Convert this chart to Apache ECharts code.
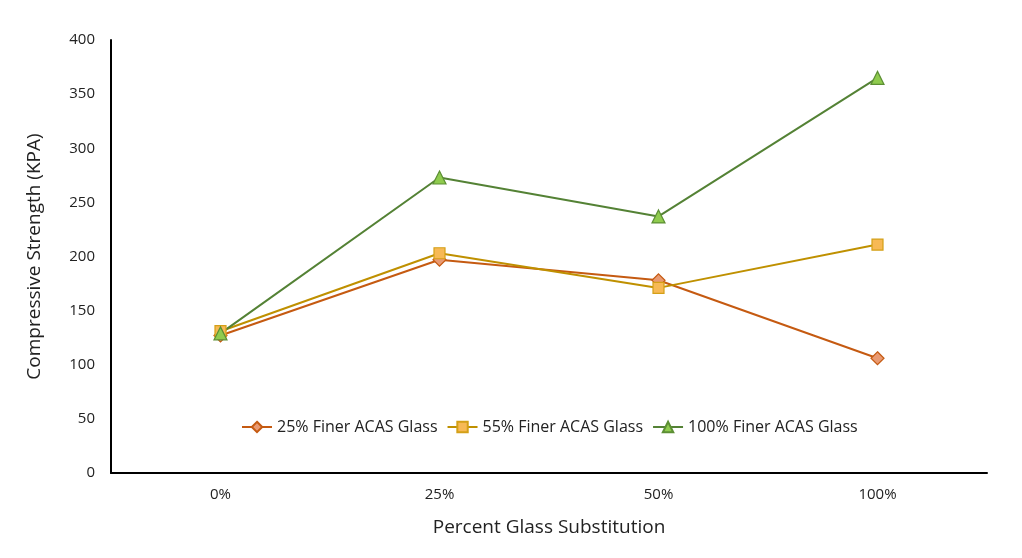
<!DOCTYPE html>
<html><head><meta charset="utf-8">
<script src="https://cdn.jsdelivr.net/npm/echarts@6/dist/echarts.min.js"></script>
<style>html,body{margin:0;padding:0;background:#fff}#c{width:1022px;height:558px}</style>
</head><body><div id="c"></div>
<script>
var categories = ['0%', '25%', '50%', '100%'];
var s25 = [127, 197, 178, 106];
var s55 = [131, 203, 171, 211];
var s100 = [129, 273, 237, 365];
var yTicks = [0, 50, 100, 150, 200, 250, 300, 350, 400];

var font = "'Open Sans', 'Liberation Sans', sans-serif";
var chart = echarts.init(document.getElementById('c'));
function ser(name, data, line, fill, border, sym, size) {
  return {
    name: name, type: 'line', data: data, symbol: sym, symbolSize: size,
    lineStyle: {color: line, width: 2},
    itemStyle: {color: fill, borderColor: border, borderWidth: 1.2},
    showAllSymbol: true, z: 3
  };
}
chart.setOption({
  animation: false,
  backgroundColor: '#fff',
  grid: {left: 111, right: 35, top: 40, bottom: 85},
  legend: {
    data: ['25% Finer ACAS Glass', '55% Finer ACAS Glass', '100% Finer ACAS Glass'],
    left: 236, top: 414, itemWidth: 30, itemHeight: 13, itemGap: 9,
    textStyle: {fontFamily: font, fontSize: 16, color: '#222'}
  },
  xAxis: {
    type: 'category', data: categories, boundaryGap: true,
    name: 'Percent Glass Substitution', nameLocation: 'middle', nameGap: 45,
    nameTextStyle: {fontFamily: font, fontSize: 19, color: '#222'},
    axisLine: {lineStyle: {color: '#000', width: 2}},
    axisTick: {show: false},
    axisLabel: {fontFamily: font, fontSize: 15, color: '#222', margin: 14},
    splitLine: {show: false}
  },
  yAxis: {
    type: 'value', min: yTicks[0], max: yTicks[yTicks.length - 1], interval: 50,
    name: 'Compressive Strength (KPA)', nameLocation: 'middle', nameGap: 67,
    nameTextStyle: {fontFamily: font, fontSize: 19, color: '#222'},
    axisLine: {show: true, lineStyle: {color: '#000', width: 2}},
    axisTick: {show: false},
    axisLabel: {fontFamily: font, fontSize: 15, color: '#222', margin: 16},
    splitLine: {show: false}
  },
  series: [
    ser('25% Finer ACAS Glass', s25, '#C55A11', '#E99A72', '#C55A11', 'diamond', 13),
    ser('55% Finer ACAS Glass', s55, '#BF9000', '#F7B955', '#D4A017', 'rect', 11),
    ser('100% Finer ACAS Glass', s100, '#548235', '#8FCB4E', '#5C8F34', 'triangle', 13)
  ]
});
</script></body></html>
